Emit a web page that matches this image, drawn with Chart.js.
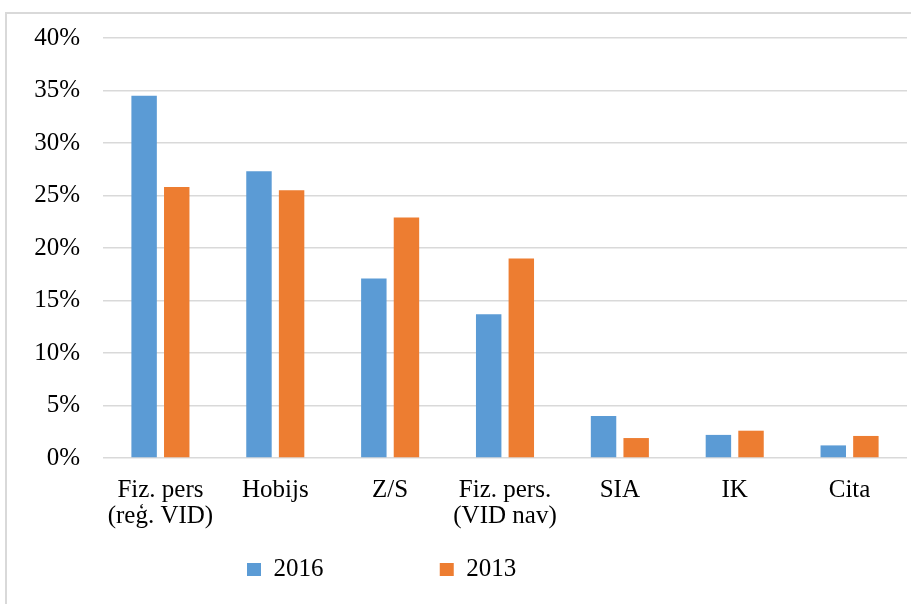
<!DOCTYPE html>
<html>
<head>
<meta charset="utf-8">
<script src="https://cdn.jsdelivr.net/npm/chart.js@4.4.1/dist/chart.umd.min.js"></script>
<style>
  html, body { margin: 0; padding: 0; background: #fff; }
  #frame {
    position: absolute; left: 5px; top: 12px; width: 2000px; height: 2000px;
    border-left: 2px solid #d9d9d9; border-top: 2px solid #d9d9d9;
  }
  #wrap { position: absolute; left: 0; top: 0; width: 911px; height: 604px; }
</style>
</head>
<body>
<div id="frame"></div>
<div id="wrap"><canvas id="myChart"></canvas></div>
<script>
const categories = [
  ["Fiz. pers", "(reģ. VID)"],
  "Hobijs",
  "Z/S",
  ["Fiz. pers.", "(VID nav)"],
  "SIA",
  "IK",
  "Cita"
];
const values2016 = [0.345, 0.273, 0.171, 0.137, 0.040, 0.022, 0.012];
const values2013 = [0.258, 0.255, 0.229, 0.190, 0.019, 0.026, 0.021];
const seriesNames = ["2016", "2013"];
const yTicks = [0, 0.05, 0.10, 0.15, 0.20, 0.25, 0.30, 0.35, 0.40];

const font = { family: "'Liberation Serif', 'Times New Roman', serif", size: 25, lineHeight: 1.04 };

Chart.defaults.color = "#000";
Chart.defaults.font = font;

const ctx = document.getElementById("myChart").getContext("2d");
new Chart(ctx, {
  type: "bar",
  data: {
    labels: categories,
    datasets: [
      {
        label: seriesNames[0],
        data: values2016,
        backgroundColor: "#5B9BD5",
        categoryPercentage: 0.568,
        barPercentage: 0.78
      },
      {
        label: seriesNames[1],
        data: values2013,
        backgroundColor: "#ED7D31",
        categoryPercentage: 0.568,
        barPercentage: 0.78
      }
    ]
  },
  options: {
    responsive: true,
    maintainAspectRatio: false,
    animation: false,
    layout: { padding: { left: 0, right: 4, top: 38, bottom: 12 } },
    plugins: {
      tooltip: { enabled: false },
      legend: {
        position: "bottom",
        labels: {
          boxWidth: 14,
          boxHeight: 13,
          padding: 10,
          font: font,
          generateLabels(chart) {
            const items = Chart.defaults.plugins.legend.labels.generateLabels(chart);
            // widen the gaps the way the original legend is spread out
            items[0].text = items[0].text + "\u2003\u2003\u2003\u2003\u2005";
            items[1].text = items[1].text + "\u2003\u2003\u2003\u2003\u2003\u2002\u2005";
            items.forEach(it => { it.lineWidth = 0; });
            return items;
          }
        }
      }
    },
    scales: {
      x: {
        grid: { display: false },
        border: { display: false },
        ticks: { padding: 11, maxRotation: 0, autoSkip: false, font: font },
        afterFit(scale) { scale.height = 89; }
      },
      y: {
        min: 0,
        max: 0.4,
        afterBuildTicks(scale) { scale.ticks = yTicks.map(v => ({ value: v })); },
        ticks: {
          padding: 23,
          font: font,
          callback: v => Math.round(v * 100) + "%"
        },
        grid: { color: "#d9d9d9", lineWidth: 1.5, drawTicks: false },
        border: { display: false },
        afterFit(scale) { scale.width = 103; }
      }
    }
  }
});
</script>
</body>
</html>
